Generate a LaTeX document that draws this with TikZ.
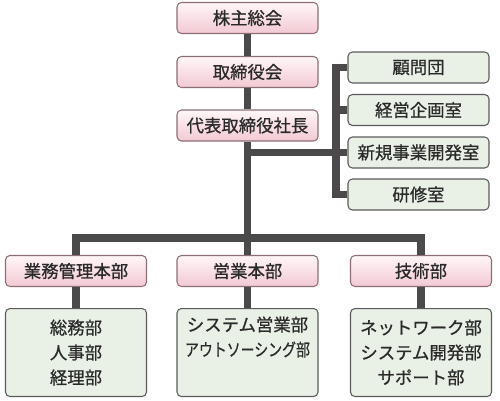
\documentclass[tikz,border=0pt]{standalone}
\usepackage{fontspec}
\setmainfont{Noto Sans CJK JP}[FakeBold=0.7]
\definecolor{linegray}{HTML}{4A4A4A}
\definecolor{pinktop}{HTML}{FFF6F8}
\definecolor{pinkbot}{HTML}{F2C9D3}
\definecolor{pinkedge}{HTML}{8C6F75}
\definecolor{greenfill}{HTML}{E9F1E7}
\definecolor{greenedge}{HTML}{5A5A5A}
\definecolor{textgray}{HTML}{2A2A2A}
\begin{document}
\begin{tikzpicture}[x=0.02cm,y=-0.02cm,
    every node/.style={font=\fontsize{9.9pt}{14.2pt}\selectfont,text=textgray},
    pinkbox/.style={draw=pinkedge,line width=0.6pt,rounded corners=2.5pt,
      top color=pinktop,bottom color=pinkbot,
      minimum width=2.82cm,minimum height=0.62cm,inner sep=0pt},
    greenbox/.style={draw=greenedge,line width=0.6pt,rounded corners=2.5pt,
      fill=greenfill,minimum width=2.82cm,minimum height=0.62cm,inner sep=0pt},
    subbox/.style={greenbox,minimum height=1.76cm,align=center,anchor=north},
    link/.style={draw=linegray,line width=4.5pt,line join=miter}]
  \useasboundingbox (0,0) rectangle (500,400);

  % top of the company
  \node[pinkbox] (soukai) at (247.5,18) {株主総会};
  \node[pinkbox] (torishimari) at (247.5,72) {取締役会};
  \node[pinkbox] (shacho) at (247.5,125.5) {代表取締役社長};

  % staff units
  \node[greenbox] (komon) at (418.5,67.5) {顧問団};
  \node[greenbox] (keiei) at (418.5,110) {経営企画室};
  \node[greenbox] (shinki) at (418.5,152.5) {新規事業開発室};
  \node[greenbox] (kenshu) at (418.5,194.5) {研修室};

  % divisions
  \node[pinkbox] (gyomu) at (76,271) {業務管理本部};
  \node[pinkbox] (eigyo) at (247.5,271) {営業本部};
  \node[pinkbox] (gijutsu) at (421,271) {技術部};

  \node[subbox] (gyomusub) at (76,308) {総務部\\人事部\\経理部};
  \node[subbox] (eigyosub) at (247.5,308)
    {システム営業部\\\scalebox{0.8}[1]{アウトソーシング部}\\\strut};
  \node[subbox] (gijutsusub) at (421,308) {ネットワーク部\\システム開発部\\サポート部};

  \coordinate (br) at (336,152.5);
  \coordinate (bar) at (247.5,238);

  % connectors
  \draw[link] (soukai.south) -- (torishimari.north);
  \draw[link] (torishimari.south) -- (shacho.north);
  \draw[link] (shacho.south) -- (eigyo.north);
  \draw[link] (shacho.south |- br) -- (shinki.west);
  \draw[link] (komon.west) -| (br) |- (kenshu.west);
  \draw[link] (keiei.west) -| (br);
  \draw[link] (gyomu.north) |- (bar) -| (gijutsu.north);
  \draw[link] (gyomu.south) -- (gyomusub.north);
  \draw[link] (eigyo.south) -- (eigyosub.north);
  \draw[link] (gijutsu.south) -- (gijutsusub.north);
\end{tikzpicture}
\end{document}
